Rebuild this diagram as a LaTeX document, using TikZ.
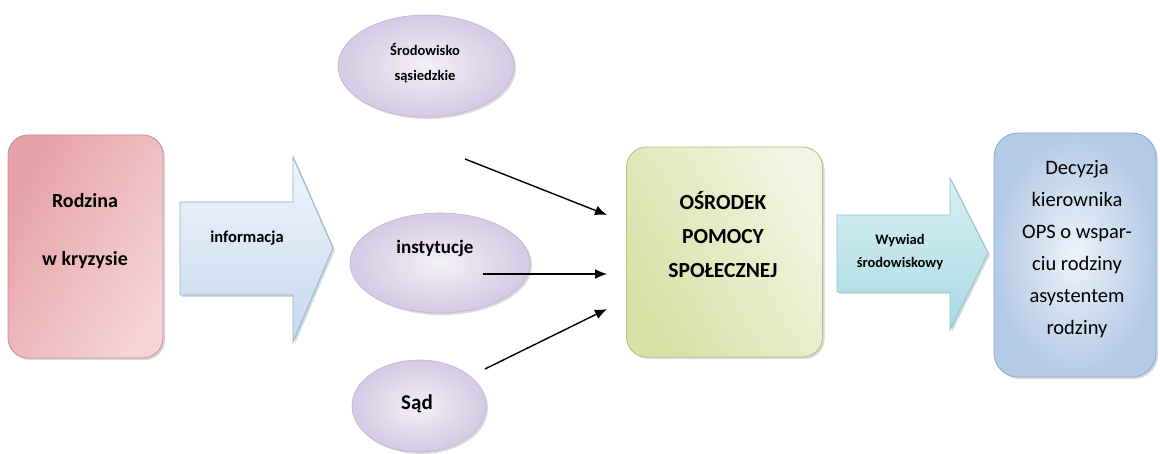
\documentclass[tikz,border=0pt]{standalone}
\usepackage{fontspec}
\setmainfont{Carlito}
\usetikzlibrary{shapes.geometric,arrows.meta,shadows}
\definecolor{pinkA}{HTML}{E5A2A7}
\definecolor{pinkB}{HTML}{F5D3D6}
\definecolor{pinkL}{HTML}{C98A90}
\definecolor{ovalIn}{HTML}{F3F0F7}
\definecolor{ovalOut}{HTML}{D4CAE3}
\definecolor{ovalL}{HTML}{C2B3D5}
\definecolor{greenA}{HTML}{D6E2A6}
\definecolor{greenB}{HTML}{F1F5E2}
\definecolor{greenL}{HTML}{B0C37E}
\definecolor{blueA}{HTML}{B3CAE5}
\definecolor{blueB}{HTML}{EEF3FA}
\definecolor{blueL}{HTML}{8AA8CC}
\definecolor{arrA}{HTML}{F0F5FB}
\definecolor{arrB}{HTML}{C6D9EE}
\definecolor{arrL}{HTML}{8FAFD3}
\definecolor{cyanA}{HTML}{D9F0F4}
\definecolor{cyanB}{HTML}{AAD9E3}
\definecolor{cyanL}{HTML}{86C3D1}
\begin{document}
\begin{tikzpicture}[x=1pt,y=-1pt,
  shadowed/.style={drop shadow={shadow xshift=2pt,shadow yshift=-2pt,opacity=0.25,fill=black!60}},
  box/.style={rectangle, rounded corners=20pt, line width=0.8pt, inner sep=0pt, shadowed},
  oval/.style={ellipse, draw=ovalL, line width=0.6pt, inner color=ovalIn, outer color=ovalOut, inner sep=0pt, shadowed},
  conn/.style={-{Latex[length=12pt,width=10pt]}, line width=1.4pt, black},
  lbl/.style={align=center, inner sep=0pt, text=black}
]
\useasboundingbox (0,0) rectangle (1160,454);

% boxes
\node[box, draw=pinkL, left color=pinkA, right color=pinkB, shading angle=60,
      minimum width=155pt, minimum height=223pt] (rodzina) at (85.5,246.5) {};
\node[box, draw=greenL, left color=greenA, right color=greenB, shading angle=120,
      minimum width=196pt, minimum height=210pt] (ops) at (724.5,252) {};
\node[box, draw=blueL, inner color=blueB, outer color=blueA, rounded corners=24pt,
      minimum width=162pt, minimum height=244pt] (decyzja) at (1075,255) {};

% block arrows
\path[draw=arrL, line width=0.8pt, top color=arrA, bottom color=arrB, shadowed]
  (180,202) -- (293,202) -- (293,157) -- (333,248) -- (293,342) -- (293,295) -- (180,295) -- cycle;
\path[draw=cyanL, line width=0.8pt, top color=cyanA, bottom color=cyanB, shadowed]
  (837,215) -- (950,215) -- (950,178) -- (988,253) -- (950,330) -- (950,292) -- (837,292) -- cycle;

% ellipses
\node[oval, minimum width=176pt, minimum height=102pt] (sasiedzkie) at (426,66) {};
\node[oval, minimum width=180pt, minimum height=100pt] (instytucje) at (440,263) {};
\node[oval, minimum width=134pt, minimum height=92pt] (sad) at (419,406) {};

% connectors
\coordinate (a1s) at (465,159);
\coordinate (a1e) at (607,215);
\coordinate (a2s) at (483,274);
\coordinate (a2e) at (607,274);
\coordinate (a3s) at (485,369);
\coordinate (a3e) at (607,309);
\draw[conn] (a1s) -- (a1e);
\draw[conn] (a2s) -- (a2e);
\draw[conn] (a3s) -- (a3e);

% labels
\node[lbl, font=\bfseries\fontsize{20}{58}\selectfont] (trodzina) at (85,231) {Rodzina\\w kryzysie};
\node[lbl, font=\bfseries\fontsize{16.5}{20}\selectfont] (tinfo) at (247,238) {informacja};
\node[lbl, font=\bfseries\fontsize{14.5}{25}\selectfont] (tsas) at (425,63) {Środowisko\\sąsiedzkie};
\node[lbl, font=\bfseries\fontsize{19}{23}\selectfont] (tinst) at (435,248) {instytucje};
\node[lbl, font=\bfseries\fontsize{21}{25}\selectfont] (tsad) at (417,404) {Sąd};
\node[lbl, font=\bfseries\fontsize{21.5}{34}\selectfont] (tops) at (723,235) {OŚRODEK\\POMOCY\\SPOŁECZNEJ};
\node[lbl, font=\bfseries\fontsize{14.5}{23}\selectfont] (twyw) at (900,252) {Wywiad\\środowiskowy};
\node[lbl, font=\fontsize{20.5}{32}\selectfont] (tdec) at (1077,249) {Decyzja\\kierownika\\OPS o wspar-\\ciu rodziny\\asystentem\\rodziny};
\end{tikzpicture}
\end{document}
